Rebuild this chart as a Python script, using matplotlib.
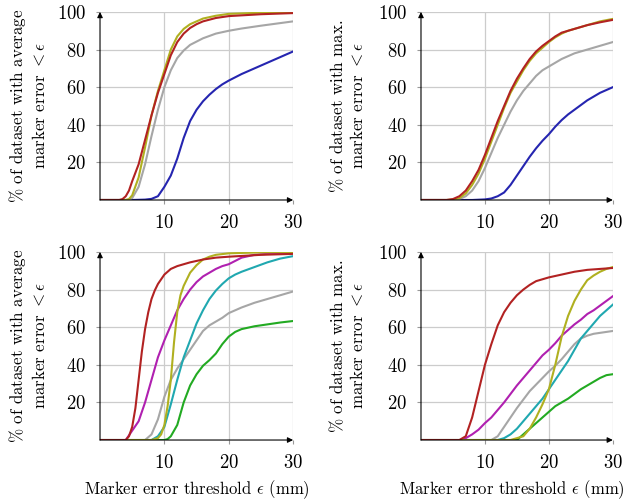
import matplotlib
matplotlib.use("Agg")
import matplotlib.pyplot as plt

plt.rcParams['font.family'] = ['cmr10', 'DejaVu Serif']
plt.rcParams['mathtext.fontset'] = 'cm'
plt.rcParams['axes.formatter.use_mathtext'] = True

blue = '#2525b0'
gray = '#a6a6a6'
olive = '#b0b020'
red = '#b22222'
magenta = '#b020b0'
teal = '#20a8b0'
green = '#22aa22'

# top left: average marker error
tl_blue_x = [0, 5, 7, 8, 9, 10, 11, 12, 13, 14, 15, 16, 17, 18, 19, 20, 22, 24, 26, 28, 30]
tl_blue_y = [0, 0, 0.2, 0.6, 2, 7, 13, 22, 33, 42, 48, 52.5, 56, 59, 61.5, 63.5, 67, 70, 73, 76, 79]
tl_gray_x = [0, 4.5, 5, 6, 7, 8, 9, 10, 11, 12, 13, 14, 16, 18, 20, 22, 25, 30]
tl_gray_y = [0, 0, 1, 7, 19, 34, 48, 60, 69, 75.5, 79.5, 82.5, 86, 88.5, 90, 91.2, 92.7, 95]
tl_olive_x = [0, 4, 4.5, 5, 6, 7, 8, 9, 10, 11, 12, 13, 14, 15, 16, 18, 20, 25, 30]
tl_olive_y = [0, 0, 0.5, 2.5, 12, 28, 45, 58, 69, 80, 87, 91, 93.5, 95, 96.5, 98, 99, 99.6, 99.8]
tl_red_x = [0, 3, 3.5, 4, 4.5, 5, 6, 7, 8, 9, 10, 11, 12, 13, 14, 15, 16, 18, 20, 25, 30]
tl_red_y = [0, 0, 0.5, 2, 5, 10, 19, 32, 45, 57, 67, 77, 84, 88.5, 91.5, 93.5, 95, 96.8, 97.8, 98.8, 99.4]

# top right: max marker error
tr_blue_x = [0, 8, 10, 11, 12, 13, 14, 15, 16, 17, 18, 19, 20, 21, 22, 23, 24, 25, 26, 27, 28, 29, 30]
tr_blue_y = [0, 0, 0.3, 0.8, 2, 4, 8, 13, 18, 23, 27.5, 31.5, 35, 39, 42.5, 45.5, 48, 50.5, 53, 55, 57, 58.5, 60]
tr_gray_x = [0, 5, 6, 7, 8, 9, 10, 11, 12, 13, 14, 15, 16, 17, 18, 19, 20, 22, 24, 26, 28, 30]
tr_gray_y = [0, 0, 0.5, 2, 5, 10, 17, 25, 33, 40, 47, 53, 58, 62, 66, 69, 71, 75, 78, 80, 82, 84]
tr_x = [0, 4, 5, 6, 7, 8, 9, 10, 11, 12, 13, 14, 15, 16, 17, 18, 19, 20, 21, 22, 23, 24, 26, 28, 30]
tr_olive_y = [0, 0, 0.2, 1, 3.5, 8, 14, 22, 31, 40, 49, 57, 63, 69, 74, 78, 81, 84, 86.5, 88.5, 90, 91, 93, 95, 96.3]
tr_red_y = [0, 0, 0.5, 2, 5, 10, 16, 24, 33, 42, 50, 58, 64.5, 70, 75, 79, 82, 84.5, 87, 89, 90, 91, 93, 94.5, 95.8]

# bottom left: average marker error
bl_gray_x = [0, 7, 8, 9, 10, 11, 12, 13, 14, 15, 16, 17, 18, 19, 20, 22, 24, 26, 28, 30]
bl_gray_y = [0, 0, 3, 11, 23, 32, 38, 43, 48, 53, 58, 61, 63, 65, 67.5, 70.5, 73, 75, 77, 79]
bl_green_x = [0, 10, 10.5, 11, 12, 13, 14, 15, 16, 17, 18, 19, 20, 21, 22, 24, 26, 28, 30]
bl_green_y = [0, 0, 0.5, 2, 8, 20, 29, 35, 39.5, 42.5, 46, 51, 55, 57.5, 59, 60.5, 61.5, 62.5, 63.3]
bl_teal_x = [0, 8, 9, 10, 11, 12, 13, 14, 15, 16, 17, 18, 19, 20, 21, 22, 24, 26, 28, 30]
bl_teal_y = [0, 0, 2, 7, 19, 32, 44, 53, 62, 69, 75, 79.5, 83, 86, 88, 89.5, 92, 94.5, 96.5, 97.8]
bl_mag_x = [0, 4, 5, 6, 7, 8, 9, 10, 11, 12, 13, 14, 15, 16, 17, 18, 19, 20, 22, 24, 26, 30]
bl_mag_y = [0, 0, 5, 10, 20, 32, 44, 53, 61, 69, 75, 80, 84, 87, 89, 91, 92.5, 93.5, 97, 98.5, 99, 99.5]
bl_olive_x = [0, 8, 9, 9.5, 10, 10.5, 11, 11.5, 12, 12.5, 13, 14, 15, 16, 17, 18, 20, 25, 30]
bl_olive_y = [0, 0, 1, 3, 8, 18, 32, 52, 68, 77, 82, 89, 93, 96, 97.5, 98.5, 99.3, 99.8, 100]
bl_red_x = [0, 4, 4.5, 5, 5.5, 6, 6.5, 7, 7.5, 8, 8.5, 9, 10, 11, 12, 13, 14, 16, 18, 20, 25, 30]
bl_red_y = [0, 0, 2, 7, 17, 32, 47, 59, 68, 75, 79.5, 83, 88, 91, 92.5, 93.5, 94.5, 96, 97, 97.5, 98.5, 99]

# bottom right: max marker error
br_gray_x = [0, 11, 12, 13, 14, 15, 16, 17, 18, 19, 20, 21, 22, 23, 24, 25, 26, 27, 28, 30]
br_gray_y = [0, 0, 2, 7, 12, 17, 21.5, 26, 29.5, 33, 36.5, 39.5, 43, 47, 51, 54, 55.5, 56.5, 57, 58]
br_green_x = [0, 15, 16, 17, 18, 19, 20, 21, 22, 23, 24, 25, 26, 27, 28, 29, 30]
br_green_y = [0, 0, 3, 6, 9, 12, 15, 18, 20, 22, 24.5, 27, 29, 31, 33, 34.5, 35]
br_teal_x = [0, 12, 13, 14, 15, 16, 17, 18, 19, 20, 21, 22, 23, 24, 25, 26, 27, 28, 29, 30]
br_teal_y = [0, 0, 1, 3, 6, 10, 14, 18, 22, 27, 32, 37, 42, 48, 54, 58, 62, 66, 69, 72]
br_mag_x = [0, 6.5, 7, 8, 9, 10, 11, 12, 13, 14, 15, 16, 17, 18, 19, 20, 21, 22, 23, 24, 25, 26, 27, 28, 29, 30]
br_mag_y = [0, 0, 1, 3, 5.5, 9, 12, 16, 20, 24.5, 29, 33, 37, 41, 45, 48, 51.5, 55.5, 58.5, 61.5, 64, 67, 69, 71.5, 74, 76.5]
br_olive_x = [0, 14, 15, 16, 17, 18, 19, 20, 21, 22, 23, 24, 25, 26, 27, 28, 29, 30]
br_olive_y = [0, 0, 1, 2, 6, 12, 19, 27, 40, 55, 66, 74, 80, 85, 87.5, 89.5, 91, 92]
br_red_x = [0, 6, 7, 8, 9, 10, 11, 12, 13, 14, 15, 16, 17, 18, 19, 20, 22, 24, 26, 28, 30]
br_red_y = [0, 0, 2, 12, 26, 40, 51, 61, 68, 73, 77, 80, 82.5, 84.5, 85.5, 86.5, 88, 89.5, 90.5, 91, 91.5]

xticks = [10, 20, 30]
yticks = [20, 40, 60, 80, 100]

fig = plt.figure(figsize=(6.29, 5.03), dpi=100)
axTL = fig.add_axes([0.159, 0.6024, 0.307, 0.3738])
axTR = fig.add_axes([0.6693, 0.6024, 0.305, 0.3738])
axBL = fig.add_axes([0.159, 0.1252, 0.307, 0.3738])
axBR = fig.add_axes([0.6693, 0.1252, 0.305, 0.3738])


def style(ax):
    ax.set_xlim(0, 30)
    ax.set_ylim(0, 100)
    for s in ax.spines.values():
        s.set_visible(False)
    ax.set_xticks(xticks)
    ax.set_yticks(yticks)
    ax.tick_params(length=3, width=0.8, color='#999999', pad=7, labelsize=13.5)
    ax.grid(True, color='#cccccc', linewidth=0.9)
    ax.set_axisbelow(True)
    ax.annotate('', xy=(30, 0), xytext=(0, 0), xycoords='data',
                arrowprops=dict(arrowstyle='-|>', color='black', lw=0.8,
                                mutation_scale=8, shrinkA=0, shrinkB=0))
    ax.annotate('', xy=(0, 100), xytext=(0, 0), xycoords='data',
                arrowprops=dict(arrowstyle='-|>', color='black', lw=0.8,
                                mutation_scale=8, shrinkA=0, shrinkB=0))


lw = 1.5
axTL.plot(tl_blue_x, tl_blue_y, color=blue, lw=lw)
axTL.plot(tl_gray_x, tl_gray_y, color=gray, lw=lw)
axTL.plot(tl_olive_x, tl_olive_y, color=olive, lw=lw)
axTL.plot(tl_red_x, tl_red_y, color=red, lw=lw)
style(axTL)

axTR.plot(tr_blue_x, tr_blue_y, color=blue, lw=lw)
axTR.plot(tr_gray_x, tr_gray_y, color=gray, lw=lw)
axTR.plot(tr_x, tr_olive_y, color=olive, lw=lw)
axTR.plot(tr_x, tr_red_y, color=red, lw=lw)
style(axTR)

axBL.plot(bl_gray_x, bl_gray_y, color=gray, lw=lw)
axBL.plot(bl_green_x, bl_green_y, color=green, lw=lw)
axBL.plot(bl_teal_x, bl_teal_y, color=teal, lw=lw)
axBL.plot(bl_mag_x, bl_mag_y, color=magenta, lw=lw)
axBL.plot(bl_olive_x, bl_olive_y, color=olive, lw=lw)
axBL.plot(bl_red_x, bl_red_y, color=red, lw=lw)
style(axBL)

axBR.plot(br_gray_x, br_gray_y, color=gray, lw=lw)
axBR.plot(br_green_x, br_green_y, color=green, lw=lw)
axBR.plot(br_teal_x, br_teal_y, color=teal, lw=lw)
axBR.plot(br_mag_x, br_mag_y, color=magenta, lw=lw)
axBR.plot(br_olive_x, br_olive_y, color=olive, lw=lw)
axBR.plot(br_red_x, br_red_y, color=red, lw=lw)
style(axBR)

avg_label = '$\\%$ of dataset with average\nmarker error $<\\epsilon$'
max_label = '$\\%$ of dataset with max.\nmarker error $<\\epsilon$'
lab = dict(rotation=90, ha='center', va='center', fontsize=12.2, linespacing=1.2)
fig.text(27.5 / 629, 1 - 106 / 503, avg_label, **lab)
fig.text(346.5 / 629, 1 - 106 / 503, max_label, **lab)
fig.text(27.5 / 629, 1 - 346 / 503, avg_label, **lab)
fig.text(346.5 / 629, 1 - 346 / 503, max_label, **lab)

xlab = 'Marker error threshold $\\epsilon$ (mm)'
fig.text(197 / 629, 1 - 494 / 503, xlab, ha='center', va='baseline', fontsize=12)
fig.text(512 / 629, 1 - 494 / 503, xlab, ha='center', va='baseline', fontsize=12)

plt.savefig('out.png', dpi=100)
